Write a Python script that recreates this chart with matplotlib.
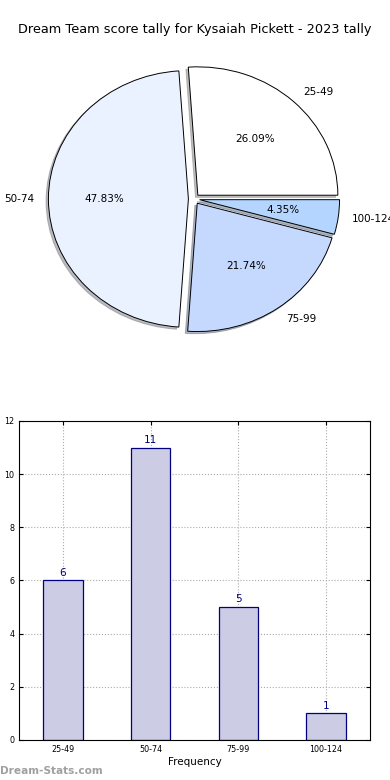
import matplotlib
matplotlib.use("Agg")
import matplotlib.pyplot as plt

categories = ["25-49", "50-74", "75-99", "100-124"]
counts = [6, 11, 5, 1]
pie_colors = ["#FFFFFF", "#EAF1FF", "#C5D9FF", "#B3D5FF"]
title = "Dream Team score tally for Kysaiah Pickett - 2023 tally"

fig = plt.figure(figsize=(3.9, 7.8), dpi=100)

# Pie
axp = fig.add_axes([0.0667, 0.5474, 0.8615, 0.395])
wedges, texts, autotexts = axp.pie(
    counts, labels=categories, colors=pie_colors, explode=[0.04] * 4,
    autopct="%.2f%%", shadow={"ox": -0.012, "oy": -0.012, "shade": 0.5},
    startangle=0, counterclock=True,
    wedgeprops=dict(edgecolor="black", linewidth=0.7),
    textprops=dict(fontsize=7.5))
axp.set_aspect("auto")
axp.set_xlim(-1.2, 1.2)
axp.set_ylim(-1.2, 1.2)
axp.axis("off")
fig.text(0.5, 1 - 30 / 780, title, ha="center", va="center", fontsize=9.25)

# Bar
axb = fig.add_axes([0.0487, 0.0513, 0.9, 0.409])
x = list(range(len(categories)))
bars = axb.bar(x, counts, width=0.45, color="#CCCCE5", edgecolor="#000080",
               linewidth=0.9, zorder=2)
for xi, c in zip(x, counts):
    axb.text(xi, c + 0.1, str(c), ha="center", va="bottom", color="#000080",
             fontsize=7.5)
axb.set_xlim(-0.5, 3.5)
axb.set_ylim(0, 12)
axb.set_xticks(x)
axb.set_xticklabels(categories)
axb.set_yticks(range(0, 13, 2))
axb.tick_params(labelsize=5.8, direction="in", top=True, right=True, length=3)
axb.grid(True, linestyle=":", color="#aaaaaa", linewidth=0.8, zorder=0)
axb.set_axisbelow(True)
axb.set_xlabel("Frequency", fontsize=7.5, labelpad=2)
axb.set_ylabel("Score Interval", fontsize=7.5, labelpad=4)
fig.text(0.0, 9 / 780, "Dream-Stats.com", color="#A0A0A0", fontsize=7.6,
         fontweight="bold", ha="left", va="center")

fig.savefig("out.png", dpi=100)
